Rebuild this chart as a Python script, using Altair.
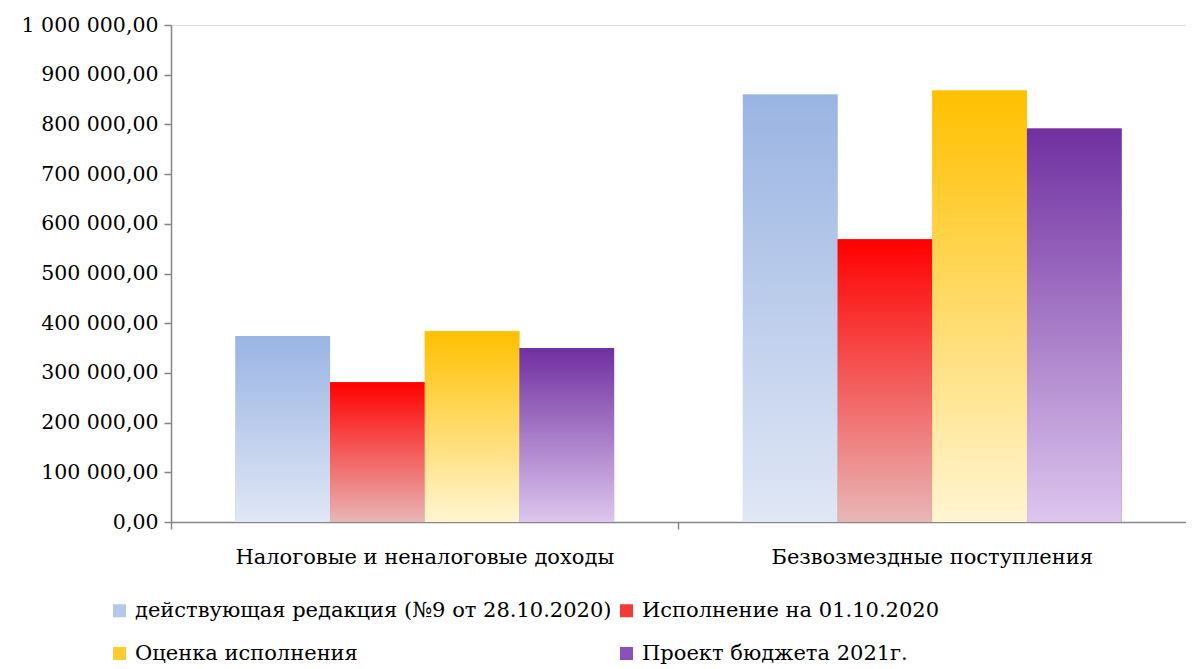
import altair as alt
import pandas as pd

categories = ["Налоговые и неналоговые доходы", "Безвозмездные поступления"]
series = [
    "действующая редакция (№9 от 28.10.2020)",
    "Исполнение на 01.10.2020",
    "Оценка исполнения",
    "Проект бюджета 2021г.",
]
values_s1 = [374000, 860000]
values_s2 = [281000, 569000]
values_s3 = [384000, 868000]
values_s4 = [350000, 792000]
y_ticks = [0, 100000, 200000, 300000, 400000, 500000, 600000, 700000, 800000, 900000, 1000000]

top_colors = ["#9AB4E2", "#FF0000", "#FFC000", "#7030A0"]
bottom_colors = ["#E0E7F5", "#E8B6B6", "#FFF5D2", "#DDC6EE"]
legend_colors = ["#B4C8EA", "#F23A3A", "#FFCB30", "#8A52B8"]

legend_order = [series[0], series[2], series[1], series[3]]
legend_range = [legend_colors[0], legend_colors[2], legend_colors[1], legend_colors[3]]

rows = []
for s, vals in zip(series, [values_s1, values_s2, values_s3, values_s4]):
    for c, v in zip(categories, vals):
        rows.append({"category": c, "series": s, "value": v})
df = pd.DataFrame(rows)

FONT = "DejaVu Serif"
AXIS_COLOR = "#868686"

x_enc = alt.X(
    "category:N",
    sort=categories,
    scale=alt.Scale(domain=categories, paddingInner=0, paddingOuter=0),
    axis=alt.Axis(
        title=None,
        labelAngle=0,
        labelFont=FONT,
        labelFontSize=21,
        labelColor="#000000",
        labelPadding=17,
        domainColor=AXIS_COLOR,
        domainWidth=1.5,
        tickColor=AXIS_COLOR,
        tickWidth=1.5,
        tickSize=7,
        bandPosition=0,
        labelLimit=0,
    ),
)
xoff_enc = alt.XOffset(
    "series:N",
    sort=series,
    scale=alt.Scale(domain=series, paddingInner=0, paddingOuter=0.68),
)
y_enc = alt.Y(
    "value:Q",
    stack=None,
    scale=alt.Scale(domain=[0, 1000000], nice=False),
    axis=alt.Axis(
        title=None,
        values=y_ticks,
        grid=False,
        labelExpr="replace(replace(format(datum.value, ',.2f'), regexp(',', 'g'), ' '), '.', ',')",
        labelFont=FONT,
        labelFontSize=20.5,
        labelColor="#000000",
        labelPadding=6,
        domainColor=AXIS_COLOR,
        domainWidth=1.5,
        tickColor=AXIS_COLOR,
        tickWidth=1.5,
        tickSize=7,
    ),
)

base = alt.Chart(df)

legend_layer = base.mark_bar().encode(
    x=x_enc,
    xOffset=xoff_enc,
    y=y_enc,
    color=alt.Color(
        "series:N",
        sort=legend_order,
        scale=alt.Scale(domain=legend_order, range=legend_range),
        legend=alt.Legend(
            title=None,
            orient="none",
            legendX=-62,
            legendY=575,
            columns=2,
            symbolType="square",
            symbolSize=169,
            symbolStrokeWidth=0,
            labelFont=FONT,
            labelFontSize=21,
            labelColor="#000000",
            labelLimit=0,
            labelOffset=5,
            columnPadding=4,
            rowPadding=21,
            gridAlign="each",
        ),
    ),
)

layers = [legend_layer]
for s, top, bot in zip(series, top_colors, bottom_colors):
    grad = alt.Gradient(
        gradient="linear",
        stops=[alt.GradientStop(color=top, offset=0), alt.GradientStop(color=bot, offset=1)],
        x1=0, x2=0, y1=0, y2=1,
    )
    layers.append(
        base.transform_filter(alt.datum.series == s)
        .mark_bar(color=grad)
        .encode(x=x_enc, xOffset=xoff_enc, y=y_enc)
    )

chart = (
    alt.layer(*layers)
    .properties(width=1015, height=497, padding={"left": 13, "top": 7, "right": 0, "bottom": 0})
    .configure_view(stroke=None)
    .configure(background="#ffffff")
)

chart.save("out.html", embed_options={"renderer": "svg", "actions": False})
